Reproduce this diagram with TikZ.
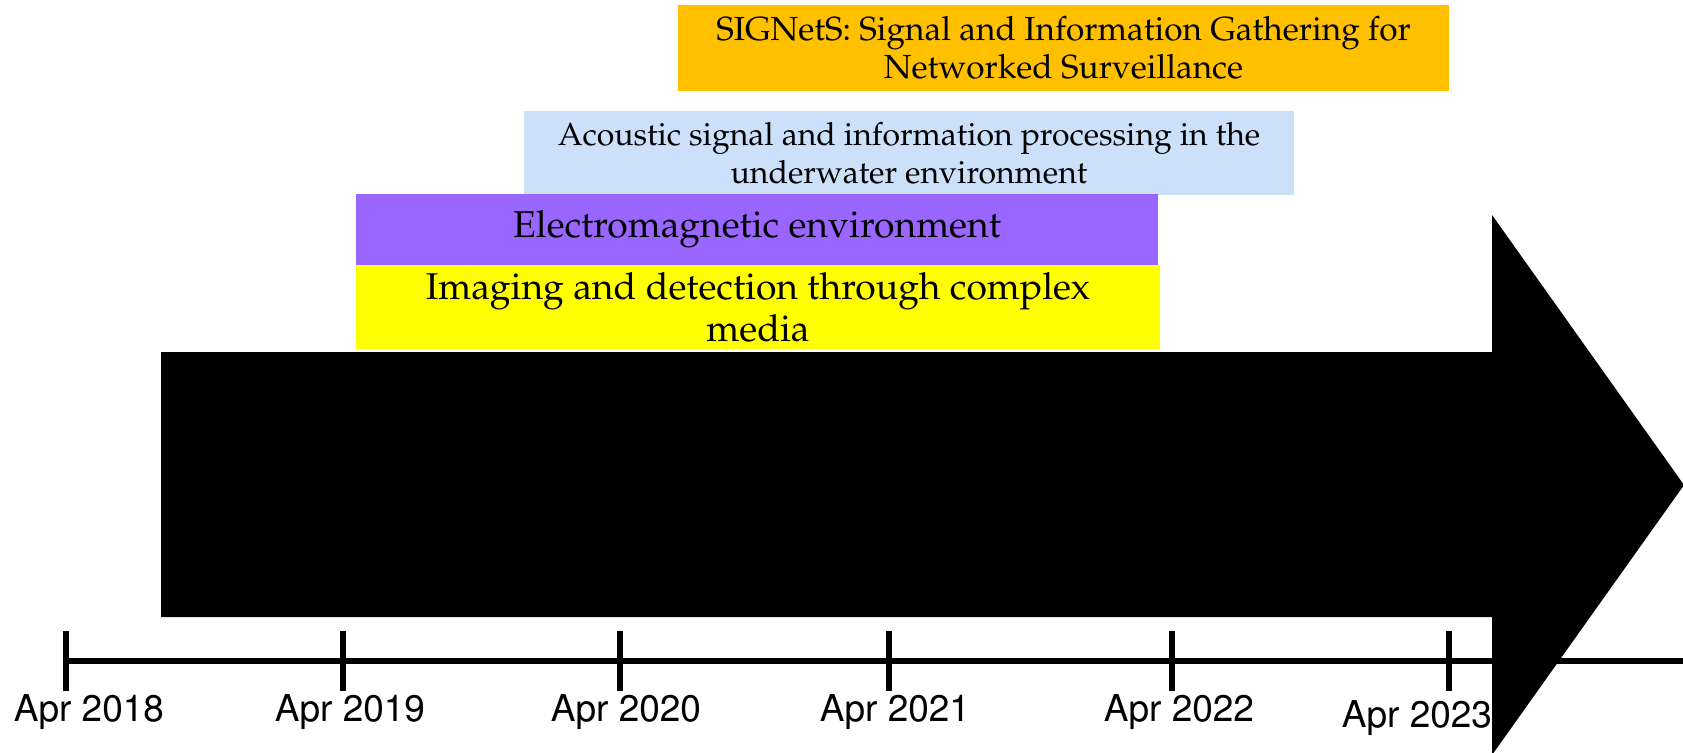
\documentclass[tikz,border=0pt]{standalone}
\usepackage[T1]{fontenc}
\usepackage{mathpazo}
\usepackage{helvet}

\definecolor{signetsorange}{HTML}{FFC000}
\definecolor{acousticblue}{HTML}{CCE0FA}
\definecolor{empurple}{HTML}{9966FF}
\definecolor{imagingyellow}{HTML}{FFFF00}

\begin{document}
\begin{tikzpicture}[x=1pt, y=-1pt,
    theme/.style={inner sep=0pt, align=center, text=black},
    datelabel/.style={font=\sffamily\fontsize{37}{37}\selectfont, anchor=base, inner sep=0pt}]
            \clip (0,0) rectangle (1683,752);
            % timeline and years
            \coordinate (axisstart) at (66,661);
            \coordinate (axisend) at (1683,661);
            \draw[line width=6.5pt] (axisstart) -- (axisend);
            \foreach \yr/\x/\lx/\ly in {2018/66/89/721, 2019/343/350/721, 2020/620/626/721,
                                        2021/889/895/721, 2022/1172/1179/721, 2023/1449/1417/727} {
              \coordinate (tick\yr) at (\x,661);
              \draw[line width=6pt] (tick\yr) ++(0,-30) -- ++(0,60);
              \node[datelabel] (date\yr) at (\lx,\ly) {Apr \yr};
            }
            % big arrow
            \fill (161,352) -- (1492,352) -- (1492,215) -- (1684,485) -- (1492,755) -- (1492,617) -- (161,617) -- cycle;
            % research themes
            \node[theme, fill=signetsorange, minimum width=771pt, minimum height=85pt,
                  font=\fontsize{33.4}{38}\selectfont] (signets) at (1063.5,48)
                  {SIGNetS: Signal and Information Gathering for\\Networked Surveillance};
            \node[theme, fill=acousticblue, minimum width=770pt, minimum height=84pt,
                  font=\fontsize{32}{38}\selectfont] (acoustic) at (909,153)
                  {Acoustic signal and information processing in the\\underwater environment};
            \node[theme, fill=empurple, minimum width=802pt, minimum height=71pt,
                  font=\fontsize{37.3}{42}\selectfont] (em) at (757,229.5)
                  {Electromagnetic environment};
            \node[theme, fill=imagingyellow, minimum width=804pt, minimum height=84pt,
                  font=\fontsize{37.3}{42}\selectfont] (imaging) at (758,307)
                  {Imaging and detection through complex\\media};
          \end{tikzpicture}
\end{document}
